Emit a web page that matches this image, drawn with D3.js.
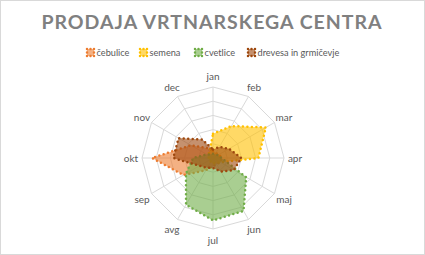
<!DOCTYPE html>
<html>
<head>
<meta charset="utf-8">
<script src="https://cdn.jsdelivr.net/npm/d3@7"></script>
<style>
  body { margin: 0; background: #fff; }
  text { font-family: Lato, "Open Sans", sans-serif; }
</style>
</head>
<body>
<div id="chart"></div>
<script>
// Chart data
const months = ['jan', 'feb', 'mar', 'apr', 'maj', 'jun', 'jul', 'avg', 'sep', 'okt', 'nov', 'dec']
const seriesNames = ['čebulice', 'semena', 'cvetlice', 'drevesa in grmičevje']
const cebulice = [0.5, 0.4, 0.5, 0.6, 0.6, 0.5, 0.6, 1.0, 2.4, 4.3, 1.8, 0.8]
const semena = [1.7, 2.6, 4.3, 3.2, 0.6, 0.4, 0.4, 0.3, 0.3, 0.3, 0.4, 0.5]
const cvetlice = [0.3, 0.3, 0.4, 0.6, 2.7, 4.3, 4.4, 3.8, 2.2, 1.4, 0.5, 0.3]
const drevesa = [0.6, 0.9, 1.3, 2.0, 1.7, 1.1, 0.7, 0.8, 1.1, 2.8, 2.8, 1.5]
const colors = ['#ED7D31', '#FFC000', '#70AD47', '#9E480E']
const rings = [1, 2, 3, 4, 5]

const width = 425,
  height = 255,
  cx = 213,
  cy = 158,
  outer = 71

let svg = d3.select('#chart')
  .append('svg')
  .attr('width', width)
  .attr('height', height)

// chart border
svg.append('rect')
  .attr('x', 0.5).attr('y', 0.5)
  .attr('width', width - 1).attr('height', height - 1)
  .attr('fill', '#fff')
  .attr('stroke', '#D9D9D9')

svg.append('text')
  .attr('x', 212)
  .attr('y', 29)
  .attr('text-anchor', 'middle')
  .attr('font-size', 19.5)
  .attr('font-weight', 700)
  .attr('letter-spacing', 1)
  .attr('fill', '#808080')
  .text('PRODAJA VRTNARSKEGA CENTRA')

const r = d3.scaleLinear().domain([0, 5]).range([0, outer])
const angle = d3.scaleLinear().domain([0, months.length]).range([0, 2 * Math.PI])

let g = svg.append('g').attr('transform', `translate(${cx},${cy})`)

// grid rings
const ringLine = d3.lineRadial()
  .angle((d, i) => angle(i))
  .radius(d => r(d))
  .curve(d3.curveLinearClosed)

g.selectAll('.ring')
  .data(rings)
  .enter()
  .append('path')
  .attr('class', 'ring')
  .attr('d', d => ringLine(months.map(() => d)))
  .attr('fill', 'none')
  .attr('stroke', '#D9D9D9')
  .attr('stroke-width', 1)

g.selectAll('.spoke')
  .data(months)
  .enter()
  .append('line')
  .attr('class', 'spoke')
  .attr('x1', 0).attr('y1', 0)
  .attr('x2', (d, i) => r(5) * Math.sin(angle(i)))
  .attr('y2', (d, i) => -r(5) * Math.cos(angle(i)))
  .attr('stroke', '#D9D9D9')

// month labels
g.selectAll('.lbl')
  .data(months)
  .enter()
  .append('text')
  .attr('class', 'lbl')
  .attr('x', (d, i) => (r(5) + 11) * Math.sin(angle(i)))
  .attr('y', (d, i) => -(r(5) + 11) * Math.cos(angle(i)))
  .attr('text-anchor', 'middle')
  .attr('dominant-baseline', 'central')
  .attr('font-size', 10)
  .attr('fill', '#595959')
  .text(d => d)

// series
const all = [cebulice, semena, cvetlice, drevesa]
g.selectAll('.series')
  .data(all)
  .enter()
  .append('path')
  .attr('class', 'series')
  .attr('d', d => ringLine(d))
  .attr('fill', (d, i) => colors[i])
  .attr('fill-opacity', 0.6)
  .attr('stroke', (d, i) => colors[i])
  .attr('stroke-width', 2.5)
  .attr('stroke-linecap', 'round')
  .attr('stroke-dasharray', '0 4.5')

// legend
const legendX = [86, 139, 194, 247]
let legend = svg.selectAll('.leg')
  .data(seriesNames)
  .enter()
  .append('g')
  .attr('class', 'leg')
  .attr('transform', (d, i) => `translate(${legendX[i]},52.5)`)

legend.append('rect')
  .attr('x', 1).attr('y', -3.5)
  .attr('width', 7).attr('height', 7)
  .attr('fill', (d, i) => colors[i])
  .attr('fill-opacity', 0.6)
  .attr('stroke', (d, i) => colors[i])
  .attr('stroke-width', 2.5)
  .attr('stroke-linecap', 'round')
  .attr('stroke-dasharray', '0 3.5')

legend.append('text')
  .attr('x', 10.5)
  .attr('y', 0)
  .attr('dominant-baseline', 'central')
  .attr('font-size', 9.2)
  .attr('fill', '#595959')
  .text(d => d)
</script>
</body>
</html>
